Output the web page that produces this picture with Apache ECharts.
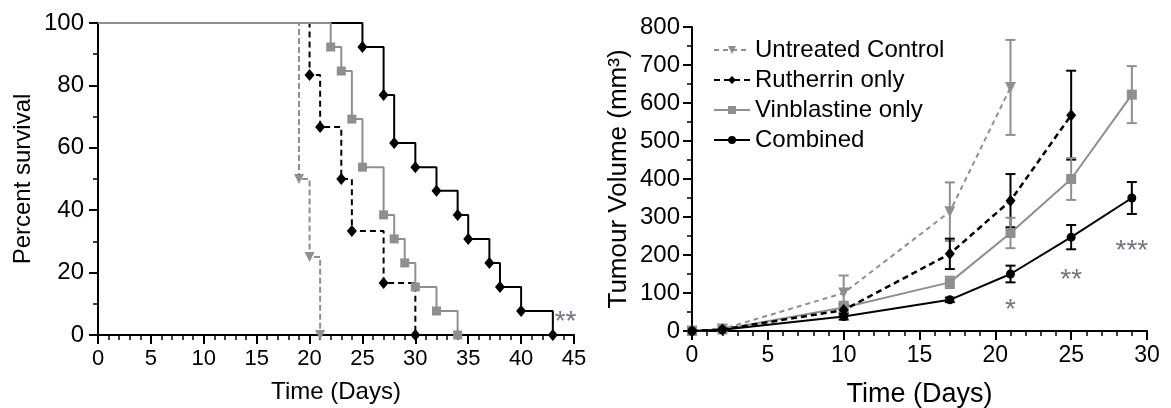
<!DOCTYPE html>
<html>
<head>
<meta charset="utf-8">
<script src="https://cdn.jsdelivr.net/npm/echarts@6/dist/echarts.min.js"></script>
<style>
html,body{margin:0;padding:0;background:#fff;}
#c{width:1171px;height:408px;}
</style>
</head>
<body>
<div id="c"></div>
<script>
// ---------- Survival (left) ----------
var survUntreatedDays = [0, 19, 20, 21];
var survUntreatedPct  = [100, 50, 25, 0];
var survRutherrinDays = [0, 20, 21, 23, 24, 27, 30];
var survRutherrinPct  = [100, 83.3, 66.7, 50, 33.3, 16.7, 0];
var survVinDays = [0, 22, 23, 24, 25, 27, 28, 29, 30, 32, 34];
var survVinPct  = [100, 92.3, 84.6, 69.2, 53.8, 38.5, 30.8, 23.1, 15.4, 7.7, 0];
var survCombDays = [0, 25, 27, 28, 30, 32, 34, 35, 37, 38, 40, 43];
var survCombPct  = [100, 92.3, 76.9, 61.5, 53.8, 46.2, 38.5, 30.8, 23.1, 15.4, 7.7, 0];
var survSigLabel = ['**'];
var survSigPos = [[44.2, 7]];

// ---------- Tumour volume (right) ----------
var volUntreatedDays = [0, 2, 10, 17, 21];
var volUntreated     = [0, 5, 100, 314, 641];
var volUntreatedErr  = [0, 0, 46, 77, 125];
var volRutherrinDays = [0, 2, 10, 17, 21, 25];
var volRutherrin     = [0, 4, 55, 203, 343, 568];
var volRutherrinErr  = [0, 0, 15, 40, 70, 117];
var volVinDays = [0, 2, 10, 17, 21, 25, 29];
var volVin     = [0, 4, 62, 128, 258, 400, 622];
var volVinErr  = [0, 0, 15, 15, 40, 55, 75];
var volCombDays = [0, 2, 10, 17, 21, 25, 29];
var volComb     = [0, 3, 38, 82, 150, 247, 350];
var volCombErr  = [0, 0, 8, 6, 22, 32, 42];
var volSigLabel = ['*', '**', '***'];
var volSigDays  = [21, 25, 29];
var volSigY     = [78, 158, 233];

var names = ['Untreated Control', 'Rutherrin only', 'Vinblastine only', 'Combined'];

var GRAY = '#8f8f8f';
var BLACK = '#000000';
var FONT = 'Liberation Sans, Arial, sans-serif';

function pairs(xs, ys, hideFirst) {
  return xs.map(function (x, i) {
    var item = {value: [x, ys[i]]};
    if (hideFirst && i === 0) item.symbol = 'none';
    return item;
  });
}
function errData(xs, ys, es) {
  var out = [];
  xs.forEach(function (x, i) { if (es[i] > 0) out.push([x, ys[i] - es[i], ys[i] + es[i]]); });
  return out;
}
function errSeries(xs, ys, es, color) {
  return {
    type: 'custom', xAxisIndex: 1, yAxisIndex: 1, z: 2, silent: true,
    data: errData(xs, ys, es),
    renderItem: function (params, api) {
      var x = api.value(0);
      var lo = api.coord([x, api.value(1)]);
      var hi = api.coord([x, api.value(2)]);
      var w = 5;
      var st = {stroke: color, lineWidth: 2};
      return {type: 'group', children: [
        {type: 'line', shape: {x1: lo[0], y1: lo[1], x2: hi[0], y2: hi[1]}, style: st},
        {type: 'line', shape: {x1: lo[0] - w, y1: lo[1], x2: lo[0] + w, y2: lo[1]}, style: st},
        {type: 'line', shape: {x1: hi[0] - w, y1: hi[1], x2: hi[0] + w, y2: hi[1]}, style: st}
      ]};
    }
  };
}

function axLine() { return {show: true, lineStyle: {color: '#000', width: 2}}; }
function axTick() { return {show: true, length: 9, lineStyle: {color: '#000', width: 2}}; }
function axMinor(n) { return {show: true, splitNumber: n, length: 5, lineStyle: {color: '#000', width: 1.5}}; }
function sigSeries(xi, pts, labels) {
  return {type: 'scatter', xAxisIndex: xi, yAxisIndex: xi, clip: false, z: 6,
    symbol: 'circle', symbolSize: 2, itemStyle: {color: 'rgba(0,0,0,0)'},
    data: pts.map(function (p, i) { return {value: p, name: labels[i]}; }),
    label: {show: true, position: 'inside', formatter: '{b}', fontSize: 28,
      color: '#4d5361', fontFamily: FONT, offset: [0, 9]}};
}

var option = {
  animation: false,
  textStyle: {fontFamily: FONT, color: '#000'},
  grid: [
    {left: 98, top: 23, width: 476, height: 312, outerBoundsMode: 'none', containLabel: false},
    {left: 692, top: 27, width: 455, height: 304, outerBoundsMode: 'none', containLabel: false}
  ],
  xAxis: [
    {gridIndex: 0, type: 'value', min: 0, max: 45, interval: 5,
     axisLine: axLine(), axisTick: axTick(), minorTick: axMinor(5),
     splitLine: {show: false}, minorSplitLine: {show: false},
     axisLabel: {fontSize: 22, color: '#000', margin: 13, fontFamily: FONT},
     name: 'Time (Days)', nameLocation: 'middle', nameGap: 45,
     nameTextStyle: {fontSize: 24, color: '#000', fontFamily: FONT}},
    {gridIndex: 1, type: 'value', min: 0, max: 30, interval: 5,
     axisLine: axLine(), axisTick: axTick(), minorTick: axMinor(5),
     splitLine: {show: false}, minorSplitLine: {show: false},
     axisLabel: {fontSize: 23, color: '#000', margin: 13, fontFamily: FONT},
     name: 'Time (Days)', nameLocation: 'middle', nameGap: 50,
     nameTextStyle: {fontSize: 27, color: '#000', fontFamily: FONT}}
  ],
  yAxis: [
    {gridIndex: 0, type: 'value', min: 0, max: 100, interval: 20,
     axisLine: axLine(), axisTick: axTick(), minorTick: axMinor(2),
     splitLine: {show: false}, minorSplitLine: {show: false},
     axisLabel: {fontSize: 24, color: '#000', margin: 14, fontFamily: FONT},
     name: 'Percent survival', nameLocation: 'middle', nameGap: 63,
     nameTextStyle: {fontSize: 24, color: '#000', fontFamily: FONT}},
    {gridIndex: 1, type: 'value', min: 0, max: 800, interval: 100,
     axisLine: axLine(), axisTick: axTick(), minorTick: axMinor(2),
     splitLine: {show: false}, minorSplitLine: {show: false},
     axisLabel: {fontSize: 24, color: '#000', margin: 12, fontFamily: FONT},
     name: 'Tumour Volume (mm³)', nameLocation: 'middle', nameGap: 60,
     nameTextStyle: {fontSize: 26, color: '#000', fontFamily: FONT}}
  ],
  legend: {
    data: names, orient: 'vertical', left: 708, top: 33,
    itemWidth: 36, itemHeight: 10, itemGap: 6,
    textStyle: {fontSize: 24, color: '#000', fontFamily: FONT},
    selectedMode: false
  },
  series: [
    // ---- survival ----
    {name: 'surv-rutherrin', type: 'line', step: 'end', xAxisIndex: 0, yAxisIndex: 0,
     data: pairs(survRutherrinDays, survRutherrinPct, true), z: 3,
     symbol: 'diamond', symbolSize: [10, 12],
     lineStyle: {color: BLACK, width: 2, type: [6, 4]}, itemStyle: {color: BLACK}},
    {name: 'surv-comb', type: 'line', step: 'end', xAxisIndex: 0, yAxisIndex: 0,
     data: pairs(survCombDays, survCombPct, true), z: 3,
     symbol: 'diamond', symbolSize: [10, 12],
     lineStyle: {color: BLACK, width: 2}, itemStyle: {color: BLACK}},
    {name: 'surv-vin', type: 'line', step: 'end', xAxisIndex: 0, yAxisIndex: 0,
     data: pairs(survVinDays, survVinPct, true), z: 4,
     symbol: 'rect', symbolSize: 9,
     lineStyle: {color: GRAY, width: 2}, itemStyle: {color: GRAY}},
    {name: 'surv-untreated', type: 'line', step: 'end', xAxisIndex: 0, yAxisIndex: 0,
     data: pairs(survUntreatedDays, survUntreatedPct, true), z: 4,
     symbol: 'triangle', symbolRotate: 180, symbolSize: 10,
     lineStyle: {color: GRAY, width: 2, type: [6, 3]}, itemStyle: {color: GRAY}},
    sigSeries(0, survSigPos, survSigLabel),
    // ---- volume error bars ----
    errSeries(volUntreatedDays, volUntreated, volUntreatedErr, GRAY),
    errSeries(volRutherrinDays, volRutherrin, volRutherrinErr, BLACK),
    errSeries(volVinDays, volVin, volVinErr, GRAY),
    errSeries(volCombDays, volComb, volCombErr, BLACK),
    // ---- volume lines ----
    {name: names[0], type: 'line', xAxisIndex: 1, yAxisIndex: 1, z: 3,
     data: pairs(volUntreatedDays, volUntreated, false),
     symbol: 'triangle', symbolRotate: 180, symbolSize: 11,
     lineStyle: {color: GRAY, width: 2, type: [5, 4]}, itemStyle: {color: GRAY}},
    {name: names[1], type: 'line', xAxisIndex: 1, yAxisIndex: 1, z: 4,
     data: pairs(volRutherrinDays, volRutherrin, false),
     symbol: 'diamond', symbolSize: [10, 12],
     lineStyle: {color: BLACK, width: 2.5, type: [6, 4]}, itemStyle: {color: BLACK}},
    {name: names[2], type: 'line', xAxisIndex: 1, yAxisIndex: 1, z: 3,
     data: pairs(volVinDays, volVin, false),
     symbol: 'rect', symbolSize: 10,
     lineStyle: {color: GRAY, width: 2}, itemStyle: {color: GRAY}},
    {name: names[3], type: 'line', xAxisIndex: 1, yAxisIndex: 1, z: 4,
     data: pairs(volCombDays, volComb, false),
     symbol: 'circle', symbolSize: 9,
     lineStyle: {color: BLACK, width: 2}, itemStyle: {color: BLACK}},
    sigSeries(1, volSigDays.map(function (d, i) { return [d, volSigY[i]]; }), volSigLabel)
  ]
};

var chart = echarts.init(document.getElementById('c'), null, {renderer: 'canvas'});
chart.setOption(option);
</script>
</body>
</html>
